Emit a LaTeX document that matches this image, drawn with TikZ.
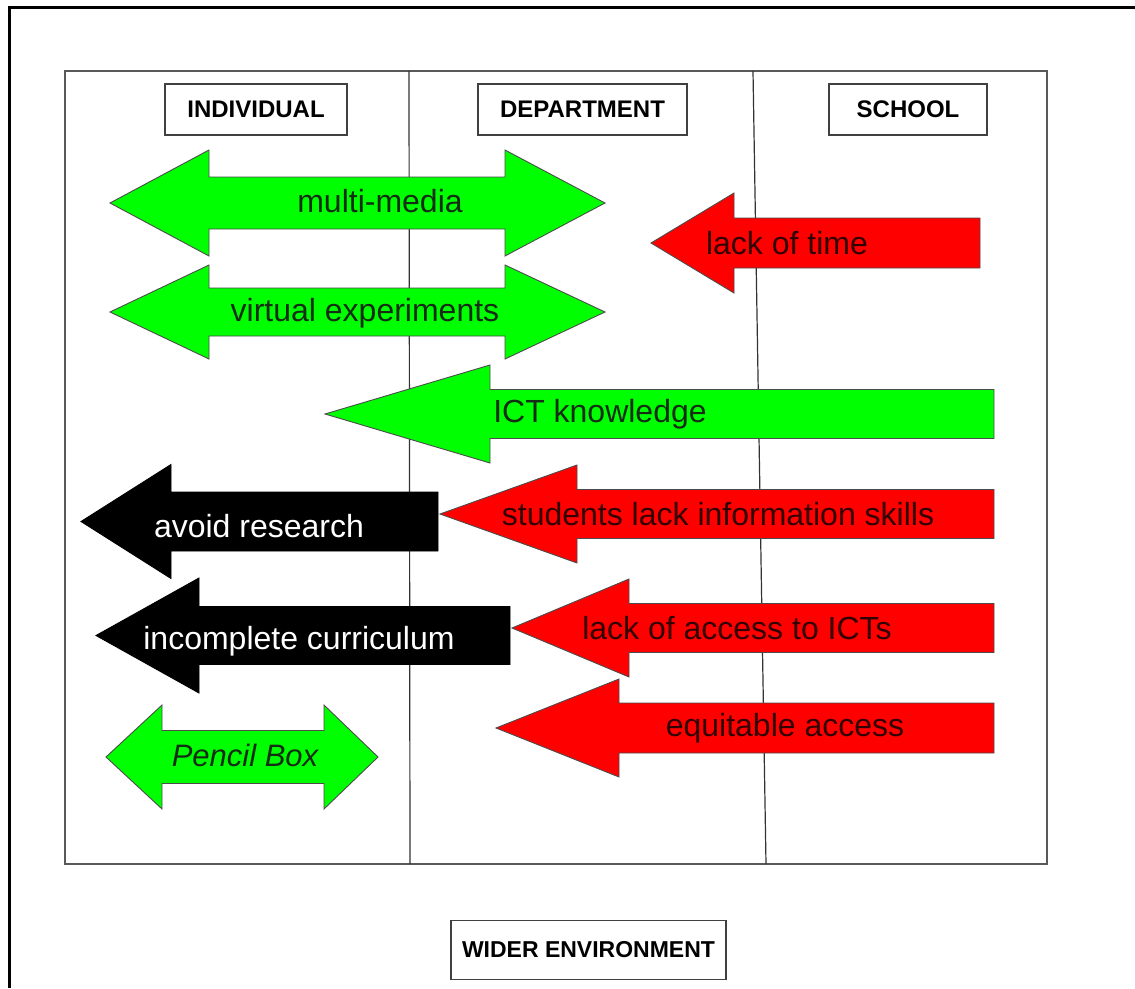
\documentclass[tikz,border=0pt]{standalone}
\usepackage{fontspec}
\setmainfont{Liberation Sans}
\definecolor{brgreen}{RGB}{0,255,0}
\definecolor{brred}{RGB}{255,0,0}
\definecolor{darkgreentext}{RGB}{20,45,20}
\definecolor{darkredtext}{RGB}{50,0,0}
\newcommand{\myLArrow}[7]{% style, tipx, cy, basex, headhalf, shafthalf, rightx
  \draw[#1] (#2,#3) -- (#4,{#3-#5}) -- (#4,{#3-#6}) -- (#7,{#3-#6}) -- (#7,{#3+#6}) -- (#4,{#3+#6}) -- (#4,{#3+#5}) -- cycle;}
\newcommand{\myDArrow}[8]{% style, ltip, cy, lbase, headhalf, shafthalf, rbase, rtip
  \draw[#1] (#2,#3) -- (#4,{#3-#5}) -- (#4,{#3-#6}) -- (#7,{#3-#6}) -- (#7,{#3-#5}) -- (#8,#3) -- (#7,{#3+#5}) -- (#7,{#3+#6}) -- (#4,{#3+#6}) -- (#4,{#3+#5}) -- cycle;}
\begin{document}
\begin{tikzpicture}[x=1pt,y=-1pt,
  greenarrow/.style={fill=brgreen, draw=black!70, line width=0.9pt, line join=miter},
  redarrow/.style={fill=brred, draw=black!70, line width=0.9pt, line join=miter},
  blackarrow/.style={fill=black, draw=black, line width=0.9pt, line join=miter},
  lbl/.style={font=\fontsize{32}{38}\selectfont, inner sep=0pt, anchor=center},
  header/.style={draw=black!75, line width=1.8pt, fill=white, inner sep=0pt,
    font=\bfseries\fontsize{24}{28}\selectfont, minimum height=51pt},
  frame/.style={draw=black!65, line width=2pt},
  divider/.style={draw=black!80, line width=1.2pt}]
\useasboundingbox (0,0) rectangle (1135,988);
\fill[white] (0,0) rectangle (1135,988);
% outer frame (left and top edges visible)
\draw[line width=3pt, black] (9,988) -- (9,7) -- (1135,7);
% inner box and dividers
\draw[frame] (65,71) rectangle (1047,864);
\coordinate (d1t) at (409,71);
\coordinate (d1b) at (410,864);
\coordinate (d2t) at (753,71);
\coordinate (d2b) at (766,864);
\draw[divider] (d1t) -- (d1b);
\draw[divider] (d2t) -- (d2b);
% headers
\node[header, minimum width=182pt] (individual) at (256,109.5) {INDIVIDUAL};
\node[header, minimum width=209pt] (department) at (582.5,109.5) {DEPARTMENT};
\node[header, minimum width=158pt] (school) at (908,109.5) {SCHOOL};
\node[header, minimum width=275pt, minimum height=59pt, font=\bfseries\fontsize{23}{28}\selectfont] (wider) at (588.5,950) {WIDER ENVIRONMENT};
% arrows
\myDArrow{greenarrow}{110}{203}{209}{53}{26}{505}{605}
\node[lbl, text=darkgreentext] (multimedia) at (380,201) {multi-media};
\myDArrow{greenarrow}{110}{312}{209}{47}{24}{505}{605}
\node[lbl, text=darkgreentext] (virtual) at (365,313) {virtual experiments};
\myLArrow{redarrow}{651}{243}{734}{50}{25}{980}
\node[lbl, text=darkredtext] (time) at (787,243) {lack of time};
\myLArrow{greenarrow}{325}{414}{490}{49}{24.5}{994}
\node[lbl, text=darkgreentext] (ict) at (600,414) {ICT knowledge};
\myLArrow{redarrow}{440}{514}{577}{49}{24.5}{994}
\node[lbl, text=darkredtext] (students) at (718,514) {students lack information skills};
\myLArrow{blackarrow}{81}{521.5}{171}{57}{29.5}{438}
\node[lbl, text=white] (avoid) at (259,526) {avoid research};
\myLArrow{redarrow}{512}{628}{629}{49}{24.5}{994}
\node[lbl, text=darkredtext] (access) at (737,628) {lack of access to ICTs};
\myLArrow{blackarrow}{96}{635.5}{199}{57.5}{29}{510}
\node[lbl, text=white] (curriculum) at (299,641) {incomplete curriculum};
\myLArrow{redarrow}{496}{728}{619}{49}{25}{994}
\node[lbl, text=darkredtext] (equitable) at (785,728) {equitable access};
\myDArrow{greenarrow}{106}{757}{162}{52}{26.5}{324}{378}
\node[lbl, text=darkgreentext, font=\itshape\fontsize{31}{38}\selectfont] (pencil) at (245,755) {Pencil Box};
\end{tikzpicture}
\end{document}
